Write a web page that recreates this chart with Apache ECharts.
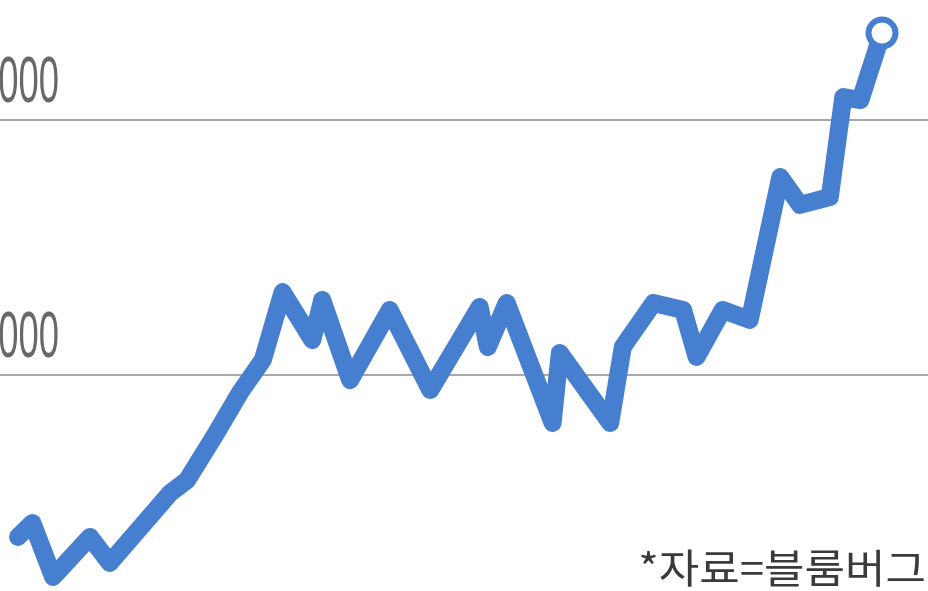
<!DOCTYPE html>
<html>
<head>
<meta charset="utf-8">
<script src="https://cdn.jsdelivr.net/npm/echarts@6/dist/echarts.min.js"></script>
<style>
  html, body { margin: 0; padding: 0; background: #ffffff; }
  #chart { width: 928px; height: 591px; }
</style>
</head>
<body>
<div id="chart"></div>
<script>
// Trading-day index of each turning point and its value
const days = [0, 1.6, 3.9, 8, 10.2, 16.9, 18.8, 21.9, 24.7, 27.2, 29.4, 32.7, 33.8, 36.9, 41.3, 45.8,
  51.3, 52.2, 54.3, 59.4, 60.2, 65.8, 67.2, 70.6, 73.9, 75.4, 78.3, 81.3, 84.7, 86.9, 90.2, 91.7, 93.6, 96];
const values = [1365, 1420, 1208, 1365, 1263, 1537, 1588, 1765, 1933, 2059, 2325, 2137, 2294, 1980, 2255, 1941,
  2267, 2110, 2282, 1812, 2086, 1812, 2110, 2282, 2255, 2071, 2255, 2216, 2776, 2667, 2698, 3090, 3078, 3341];
const yTicks = [2000, 3000];
const yTickLabels = ['2,000', '3,000'];
const sourceText = '*자료=블룸버그';

const seriesData = days.map((d, i) => [d, values[i]]);
const chart = echarts.init(document.getElementById('chart'));
const lineColor = '#467fcf';

chart.setOption({
  animation: false,
  backgroundColor: '#ffffff',
  grid: { left: 0, right: 0, top: -135, bottom: -39, outerBoundsMode: 'none' },
  xAxis: {
    type: 'value', min: -2, max: 101.11,
    show: false, splitLine: { show: false }
  },
  yAxis: {
    type: 'value', min: 1000, max: 4000, interval: 1000,
    axisLine: { show: false }, axisTick: { show: false },
    axisLabel: { show: false },
    splitLine: { show: true, lineStyle: { color: '#a9a9a9', width: 2 } }
  },
  series: [{
    type: 'line',
    data: seriesData,
    smooth: false,
    lineStyle: { color: lineColor, width: 18, cap: 'round', join: 'round' },
    symbol: 'circle',
    symbolSize: (val, params) => params.dataIndex === seriesData.length - 1 ? 27 : 0,
    showSymbol: true,
    itemStyle: { color: '#ffffff', borderColor: lineColor, borderWidth: 6 },
    z: 3
  }]
});

const graphics = yTicks.map((t, i) => {
  const py = chart.convertToPixel({ yAxisIndex: 0 }, t);
  return {
    type: 'text',
    x: 59, y: py - 3,
    scaleX: 0.56,
    style: {
      text: yTickLabels[i],
      font: '65px "Liberation Sans"',
      fill: '#686868',
      align: 'right',
      verticalAlign: 'bottom'
    },
    z: 5
  };
});
graphics.push({
  type: 'text',
  x: 926, y: 588,
  scaleX: 1.1,
  style: {
    text: sourceText,
    font: '40px "Noto Sans CJK KR"',
    fill: '#3a3a3a',
    align: 'right',
    verticalAlign: 'bottom'
  },
  z: 5
});
chart.setOption({ graphic: graphics });
</script>
</body>
</html>
